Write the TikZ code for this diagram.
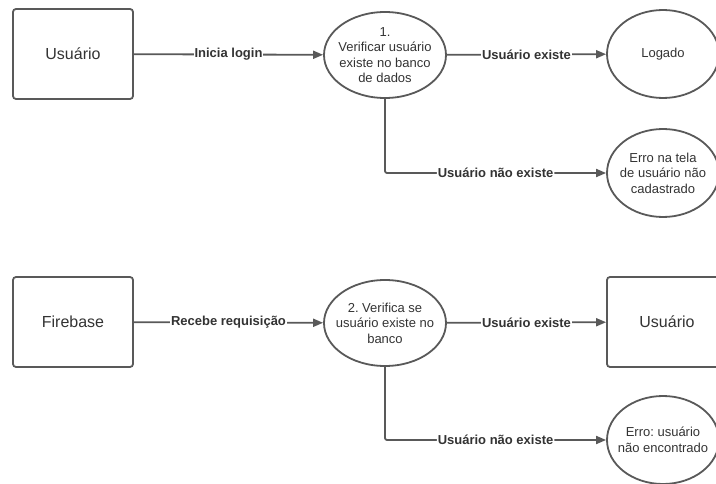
\documentclass[tikz,border=0pt]{standalone}
\usepackage{fontspec}
\setmainfont{Liberation Sans}
\frenchspacing
\usepackage{tikz}
\usetikzlibrary{shapes.geometric,arrows.meta}

\definecolor{linegray}{HTML}{595959}
\definecolor{textgray}{HTML}{333333}

\tikzset{
  entity/.style={draw=linegray, line width=1.8pt, rounded corners=3pt,
    minimum width=120pt, minimum height=90pt, inner sep=0pt,
    text=textgray, font=\fontsize{16}{19}\selectfont},
  proc/.style={draw=linegray, line width=1.8pt, ellipse,
    minimum width=122pt, minimum height=86pt, inner xsep=-9pt, inner ysep=0pt,
    align=center, text=textgray, font=\fontsize{13}{15.5}\selectfont},
  outc/.style={proc, minimum width=112pt, minimum height=88pt},
  flow/.style={draw=linegray, line width=1.8pt, -{Triangle[length=10pt,width=8pt]}},
  lbl/.style={fill=white, inner sep=1pt, text=textgray,
    font=\fontsize{13}{15}\selectfont\bfseries}
}

\begin{document}
\begin{tikzpicture}[x=1pt,y=-1pt]
\useasboundingbox (0,0) rectangle (716,484);

\node[entity] (usr) at (73,54) {Usuário};
\node[proc] (verif) at (385,55) {1.\\Verificar usuário\\existe no banco\\de dados};
\node[outc] (logado) at (663,54) {Logado};
\node[outc] (erro1) at (663,173) {Erro na tela\\de usuário não\\cadastrado};

\node[entity] (fb) at (73,322) {Firebase};
\node[proc] (verif2) at (385,323) {2. Verifica se\\usuário existe no\\banco};
\node[entity] (usr2) at (667,322) {Usuário};
\node[outc] (erro2) at (663,440) {Erro: usuário\\não encontrado};

\draw[flow] (usr) -- (verif) node[lbl, midway] {Inicia login};
\draw[flow] (verif) -- (logado) node[lbl, midway] {Usuário existe};
\draw[flow, rounded corners=2pt] (verif.south) |- (erro1.west) node[lbl, pos=0.75] {Usuário não existe};

\draw[flow] (fb) -- (verif2) node[lbl, midway] {Recebe requisição};
\draw[flow] (verif2) -- (usr2) node[lbl, midway] {Usuário existe};
\draw[flow, rounded corners=2pt] (verif2.south) |- (erro2.west) node[lbl, pos=0.75] {Usuário não existe};
\end{tikzpicture}
\end{document}
